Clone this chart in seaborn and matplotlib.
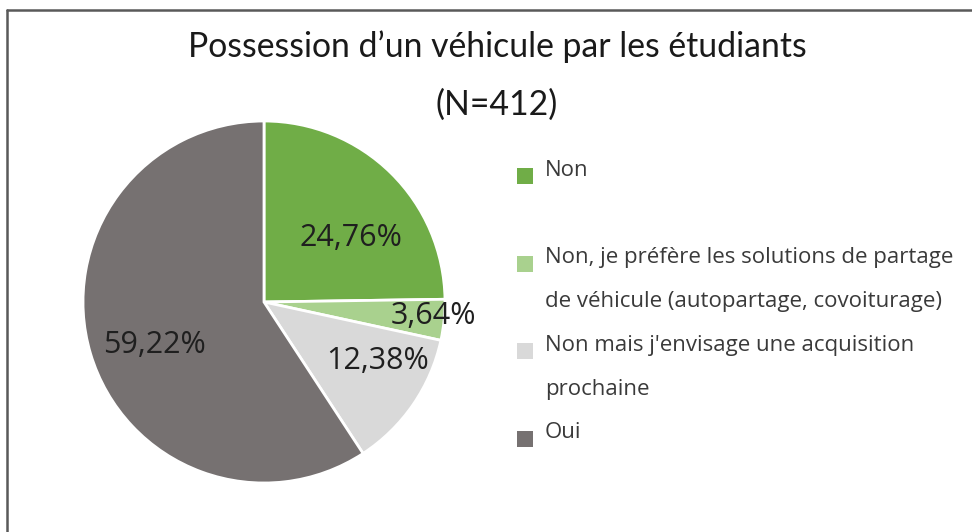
import matplotlib
matplotlib.use("Agg")
import matplotlib.pyplot as plt
import seaborn as sns
import numpy as np
from matplotlib.patches import Rectangle
from matplotlib.lines import Line2D

# ---- data ----
categories = [
    "Non",
    "Non, je préfère les solutions de partage de véhicule (autopartage, covoiturage)",
    "Non mais j'envisage une acquisition prochaine",
    "Oui",
]
legend_lines = [
    ["Non"],
    ["Non, je préfère les solutions de partage", "de véhicule (autopartage, covoiturage)"],
    ["Non mais j'envisage une acquisition", "prochaine"],
    ["Oui"],
]
percentages = [24.76, 3.64, 12.38, 59.22]
colors = ["#70AD47", "#A9D18E", "#D9D9D9", "#767171"]
title_line1 = "Possession d’un véhicule par les étudiants"
title_line2 = "(N=412)"

# ---- style ----
sns.set_theme(style="white")
plt.rcParams['font.family'] = ['Open Sans', 'DejaVu Sans']

W, H = 972, 532
fig = plt.figure(figsize=(W / 100, H / 100), dpi=100)
fig.patch.set_facecolor("white")

# frame around chart area (cropped at right/bottom)
fig.add_artist(Line2D([7 / W, 1], [1 - 9.5 / H, 1 - 9.5 / H], transform=fig.transFigure,
                      color="#595959", lw=1.8))
fig.add_artist(Line2D([7 / W, 7 / W], [0, 1 - 9.5 / H], transform=fig.transFigure,
                      color="#595959", lw=1.8))

# ---- pie ----
R, cx, cy = 181, 264, 302
ax = fig.add_axes([(cx - R) / W, (H - cy - R) / H, 2 * R / W, 2 * R / H])
wedges, texts, autotexts = ax.pie(
    percentages, colors=colors, startangle=90, counterclock=False,
    autopct=lambda p: f"{p:.2f}%".replace(".", ","),
    wedgeprops=dict(edgecolor="white", linewidth=2),
    textprops=dict(fontsize=22, color="#1f1f1f"),
)
ax.set_xlim(-1, 1)
ax.set_ylim(-1, 1)
ax.set_aspect("equal")

label_r = [0.60, 0.94, 0.71, 0.65]
label_shift = [-9, 1, 7, 5]
for w, t, r, s in zip(wedges, autotexts, label_r, label_shift):
    ang = np.deg2rad((w.theta1 + w.theta2) / 2 + s)
    t.set_position((r * np.cos(ang), r * np.sin(ang)))
    t.set_ha("center")
    t.set_va("center")

# ---- title ----
fig.text(497 / W, 1 - 47 / H, title_line1, ha="center", va="center",
         fontsize=24.3, color="#1a1a1a", family=["Lato", "DejaVu Sans"])
fig.text(497 / W, 1 - 105 / H, title_line2, ha="center", va="center",
         fontsize=24.3, color="#1a1a1a", family=["Lato", "DejaVu Sans"])

# ---- legend (manual, to match wrapped-label layout) ----
legend_y = [170, 258, 345, 433]
line_gap = 44
sq = 16
for lines, col, y in zip(legend_lines, colors, legend_y):
    fig.add_artist(Rectangle((517 / W, 1 - (y + 6 + sq / 2) / H), sq / W, sq / H,
                             transform=fig.transFigure, facecolor=col, edgecolor="none"))
    for k, line in enumerate(lines):
        fig.text(545 / W, 1 - (y + k * line_gap) / H, line, ha="left", va="center",
                 fontsize=16, color="#3a3a3a")

fig.savefig("out.png", dpi=100)
